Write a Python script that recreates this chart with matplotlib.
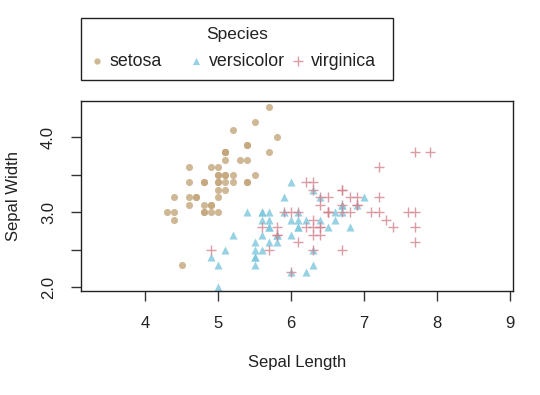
import numpy as np
import matplotlib
matplotlib.use("Agg")
import matplotlib.pyplot as plt
from matplotlib.patches import Rectangle

plt.rcParams['font.family'] = ['Liberation Sans', 'DejaVu Sans']

# iris: sepal length / width per species
setosa_len = [5.1, 4.9, 4.7, 4.6, 5.0, 5.4, 4.6, 5.0, 4.4, 4.9, 5.4, 4.8, 4.8, 4.3, 5.8, 5.7, 5.4,
              5.1, 5.7, 5.1, 5.4, 5.1, 4.6, 5.1, 4.8, 5.0, 5.0, 5.2, 5.2, 4.7, 4.8, 5.4, 5.2, 5.5,
              4.9, 5.0, 5.5, 4.9, 4.4, 5.1, 5.0, 4.5, 4.4, 5.0, 5.1, 4.8, 5.1, 4.6, 5.3, 5.0]
setosa_wid = [3.5, 3.0, 3.2, 3.1, 3.6, 3.9, 3.4, 3.4, 2.9, 3.1, 3.7, 3.4, 3.0, 3.0, 4.0, 4.4, 3.9,
              3.5, 3.8, 3.8, 3.4, 3.7, 3.6, 3.3, 3.4, 3.0, 3.4, 3.5, 3.4, 3.2, 3.1, 3.4, 4.1, 4.2,
              3.1, 3.2, 3.5, 3.6, 3.0, 3.4, 3.5, 2.3, 3.2, 3.5, 3.8, 3.0, 3.8, 3.2, 3.7, 3.3]
versi_len = [7.0, 6.4, 6.9, 5.5, 6.5, 5.7, 6.3, 4.9, 6.6, 5.2, 5.0, 5.9, 6.0, 6.1, 5.6, 6.7, 5.6,
             5.8, 6.2, 5.6, 5.9, 6.1, 6.3, 6.1, 6.4, 6.6, 6.8, 6.7, 6.0, 5.7, 5.5, 5.5, 5.8, 6.0,
             5.4, 6.0, 6.7, 6.3, 5.6, 5.5, 5.5, 6.1, 5.8, 5.0, 5.6, 5.7, 5.7, 6.2, 5.1, 5.7]
versi_wid = [3.2, 3.2, 3.1, 2.3, 2.8, 2.8, 3.3, 2.4, 2.9, 2.7, 2.0, 3.0, 2.2, 2.9, 2.9, 3.1, 3.0,
             2.7, 2.2, 2.5, 3.2, 2.8, 2.5, 2.8, 2.9, 3.0, 2.8, 3.0, 2.9, 2.6, 2.4, 2.4, 2.7, 2.7,
             3.0, 3.4, 3.1, 2.3, 3.0, 2.5, 2.6, 3.0, 2.6, 2.3, 2.7, 3.0, 2.9, 2.9, 2.5, 2.8]
virg_len = [6.3, 5.8, 7.1, 6.3, 6.5, 7.6, 4.9, 7.3, 6.7, 7.2, 6.5, 6.4, 6.8, 5.7, 5.8, 6.4, 6.5,
            7.7, 7.7, 6.0, 6.9, 5.6, 7.7, 6.3, 6.7, 7.2, 6.2, 6.1, 6.4, 7.2, 7.4, 7.9, 6.4, 6.3,
            6.1, 7.7, 6.3, 6.4, 6.0, 6.9, 6.7, 6.9, 5.8, 6.8, 6.7, 6.7, 6.3, 6.5, 6.2, 5.9]
virg_wid = [3.3, 2.7, 3.0, 2.9, 3.0, 3.0, 2.5, 2.9, 2.5, 3.6, 3.2, 2.7, 3.0, 2.5, 2.8, 3.2, 3.0,
            3.8, 2.6, 2.2, 3.2, 2.8, 2.8, 2.7, 3.3, 3.2, 2.8, 3.0, 2.8, 3.0, 2.8, 3.8, 2.8, 2.8,
            2.6, 3.0, 3.4, 3.1, 3.0, 3.1, 3.1, 3.1, 2.7, 3.2, 3.3, 3.0, 2.5, 3.0, 3.4, 3.0]

species = ["setosa", "versicolor", "virginica"]
x_ticks = [4, 5, 6, 7, 8, 9]
y_ticks = [2.0, 2.5, 3.0, 3.5, 4.0]
y_labels = ["2.0", "", "3.0", "", "4.0"]

colors = ['#c4a67c', '#7cc7dc', '#d4848e']
markers = ['o', '^', '+']
sizes = [26, 34, 55]
ALPHA = 0.8

W, H = 540, 395
fig = plt.figure(figsize=(W / 100, H / 100), dpi=100)
# plot box in pixels: x 81..513, y 101..291
ax = fig.add_axes([81 / W, 1 - 291 / H, (513 - 81) / W, (291 - 101) / H])

series = [(setosa_len, setosa_wid), (versi_len, versi_wid), (virg_len, virg_wid)]
for (xs, ys), c, m, s in zip(series, colors, markers, sizes):
    lw = 1.0 if m == '+' else 0
    ax.scatter(xs, ys, marker=m, s=s, color=c, alpha=ALPHA, linewidths=lw)

ax.set_xlim(3.12, 9.04)
ax.set_ylim(1.95, 4.48)
ax.set_xticks(x_ticks)
ax.set_xticklabels([str(v) for v in x_ticks])
ax.set_yticks(y_ticks)
ax.set_yticklabels(y_labels, rotation=90, va='center')
ax.tick_params(axis='both', direction='out', length=7, width=1, labelsize=12, color='#333333',
               labelcolor='#222222')
ax.tick_params(axis='x', pad=11)
ax.tick_params(axis='y', pad=11)
for sp in ax.spines.values():
    sp.set_linewidth(1.0)
    sp.set_color('#222222')

fig.text(297 / W, 1 - 363 / H, "Sepal Length", ha='center', va='center', fontsize=12, color='#222222')
fig.text(14 / W, 1 - 196 / H, "Sepal Width", ha='center', va='center', rotation=90, fontsize=12,
         color='#222222')

# legend drawn in a pixel-coordinate overlay
lax = fig.add_axes([0, 0, 1, 1], facecolor='none')
lax.set_xlim(0, W)
lax.set_ylim(H, 0)
lax.axis('off')
lax.add_patch(Rectangle((81, 18), 393 - 81, 80 - 18, fill=False, edgecolor='#222222', linewidth=1.0))
lax.text(237, 35, "Species", ha='center', va='center', fontsize=12.5, color='#222222')
key_x = [97, 196, 298]
for kx, name, c, m, s in zip(key_x, species, colors, markers, sizes):
    lw = 1.0 if m == '+' else 0
    lax.scatter([kx], [61], marker=m, s=s * 0.8, color=c, alpha=ALPHA, linewidths=lw)
    lax.text(kx + 13, 61, name, ha='left', va='center', fontsize=12.8, color='#222222')

fig.savefig("out.png", dpi=100)
